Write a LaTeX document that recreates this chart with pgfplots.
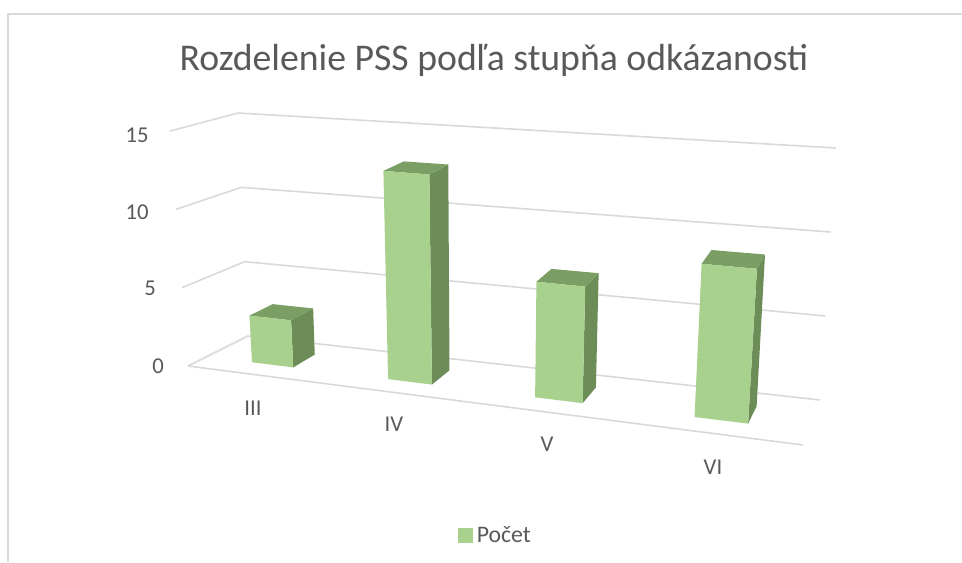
\documentclass[border=0pt]{standalone}
\usepackage{fontspec}
\setmainfont{Carlito}
\usepackage{pgfplots}
\pgfplotsset{compat=1.18}
\definecolor{gridc}{HTML}{D9D9D9}
\definecolor{txtc}{HTML}{595959}
\definecolor{barfront}{HTML}{A9D18E}
\definecolor{barside}{HTML}{6C8C58}
\definecolor{bartop}{HTML}{7B9E65}
% (u,d,v): u along the category axis 0..1, d depth 0..1, v value 0..15
\pgfplotsset{
  /pgf/declare function={
    bx(\uu,\dd)=(1-\uu)*(1-\dd)*188+\uu*(1-\dd)*803+(1-\uu)*\dd*248+\uu*\dd*820;
    tx(\uu,\dd)=(1-\uu)*(1-\dd)*170+\uu*(1-\dd)*822+(1-\uu)*\dd*238+\uu*\dd*836;
    by(\uu,\dd)=(1-\uu)*(1-\dd)*366+\uu*(1-\dd)*445+(1-\uu)*\dd*336+\uu*\dd*400;
    ty(\uu,\dd)=(1-\uu)*(1-\dd)*131+\uu*(1-\dd)*180+(1-\uu)*\dd*113+\uu*\dd*148;
    px(\uu,\dd,\vv)=bx(\uu,\dd)+(tx(\uu,\dd)-bx(\uu,\dd))*\vv/15;
    py(\uu,\dd,\vv)=by(\uu,\dd)+(ty(\uu,\dd)-by(\uu,\dd))*\vv/15;
  },
  /pgfplots/table/proj/.style={row sep=\\,
    x expr={px(\thisrow{u},\thisrow{d},\thisrow{v})},
    y expr={py(\thisrow{u},\thisrow{d},\thisrow{v})}},
}
\newcommand{\gridlevel}[1]{%
  \addplot[gridc,line width=1.2pt,forget plot] table[proj]{u d v\\ 0 0 #1\\ 0 1 #1\\ 1 1 #1\\};}
\newcommand{\drawbar}[3]{%
  \addplot[fill=barside,draw=none,forget plot] table[proj]{u d v\\ #2 0.31 0\\ #2 0.71 0\\ #2 0.71 #3\\ #2 0.31 #3\\ #2 0.31 0\\};
  \addplot[fill=bartop,draw=none,forget plot] table[proj]{u d v\\ #1 0.31 #3\\ #2 0.31 #3\\ #2 0.71 #3\\ #1 0.71 #3\\ #1 0.31 #3\\};
  \addplot[fill=barfront,draw=none,forget plot] table[proj]{u d v\\ #1 0.31 0\\ #2 0.31 0\\ #2 0.31 #3\\ #1 0.31 #3\\ #1 0.31 0\\};}
\begin{document}
\begin{tikzpicture}
\useasboundingbox (0,0) rectangle (721.5pt,421.5pt);
\begin{axis}[
  at={(0,0)},anchor=south west,
  scale only axis,width=721.5pt,height=421.5pt,
  xmin=0,xmax=962,ymin=0,ymax=562,y dir=reverse,
  hide axis,clip=false,
  legend style={at={(axis cs:495.5,535)},anchor=center,draw=none,fill=none,
    font=\fontsize{17.8}{19}\selectfont\color{txtc},
    legend cell align=left,inner sep=0pt,
    /tikz/every even column/.append style={column sep=0pt}},
]
% chart frame
\addplot[gridc,line width=1.2pt,forget plot] coordinates {(962,14) (8,14) (8,562)};
% floor front edge and value grid
\addplot[gridc,line width=1.2pt,forget plot] table[proj]{u d v\\ 0 0 0\\ 1 0 0\\};
\gridlevel{0}
\gridlevel{5}
\gridlevel{10}
\gridlevel{15}
% bars: u-left, u-right, value
\drawbar{0.0755}{0.144}{3}
\drawbar{0.3016}{0.3745}{13}
\drawbar{0.546}{0.625}{7}
\drawbar{0.811}{0.9}{9}
\addlegendimage{legend image code/.code={\fill[barfront] (0pt,-5.25pt) rectangle (10.5pt,5.25pt);}}
\addlegendentry{\hspace{1.5pt}Počet}
% text
\node[text=txtc,font=\fontsize{28.3}{31}\selectfont] at (axis cs:494,60) {Rozdelenie PSS podľa stupňa odkázanosti};
\foreach \lab/\xx/\yy in {15/137/135,10/137/212,5/150/288,0/158/366,III/253/408,IV/394/424,V/547/444,VI/713/467}{
  \edef\tmp{\noexpand\node[text=txtc,font=\noexpand\fontsize{17}{18}\noexpand\selectfont] at (axis cs:\xx,\yy) {\lab};}
  \tmp
}
\end{axis}
\end{tikzpicture}
\end{document}
